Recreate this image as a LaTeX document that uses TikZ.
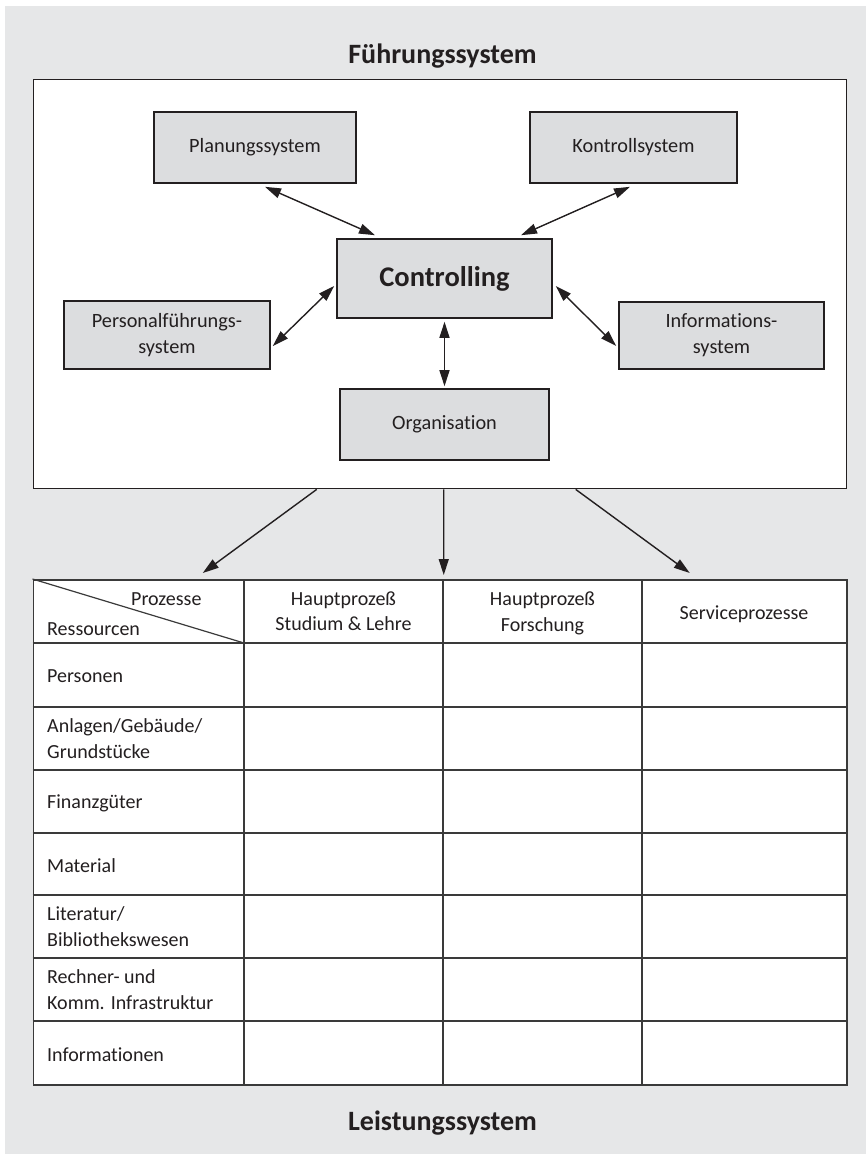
\documentclass[tikz,border=0pt]{standalone}
\usepackage{fontspec}
\setmainfont{Carlito}[Ligatures={NoCommon}]
\usetikzlibrary{arrows.meta,calc}
\definecolor{bggray}{HTML}{E6E7E8}
\definecolor{boxgray}{HTML}{DCDDDF}
\definecolor{ink}{HTML}{231F20}
\definecolor{rule}{HTML}{3A3A3A}

\begin{document}
\begin{tikzpicture}[x=1pt,y=-1pt,
  tip/.tip={Triangle[length=16pt,width=10pt]},
  sysbox/.style={draw=ink,line width=1.6pt,fill=boxgray,inner sep=0pt,
    align=center,text=ink,font=\fontsize{20.3}{26}\selectfont},
  mainbox/.style={sysbox,font=\fontsize{28.5}{32}\selectfont\bfseries},
  frame/.style={draw=ink,line width=1.4pt,fill=white,inner sep=0pt},
  heading/.style={text=ink,inner sep=0pt,font=\fontsize{28}{32}\selectfont\bfseries},
  link/.style={draw=ink,line width=1.4pt,tip-tip},
  flow/.style={draw=ink,line width=1.4pt,-tip},
  celltext/.style={text=ink,inner sep=0pt,align=left,font=\fontsize{20}{25.5}\selectfont},
  headtext/.style={celltext,align=center},
  grid/.style={draw=rule,line width=1.5pt}
]
% page and background
\useasboundingbox (0,0) rectangle (866,1154);
\fill[bggray] (5,6) rectangle (866,1154);

% management system
\node[heading,anchor=base] (ftitle) at (442.5,63) {Führungssystem};
\node[frame,minimum width=813.5,minimum height=409,anchor=north west] (fs) at (32.5,79) {};

\node[sysbox,minimum width=202,minimum height=71] (plan)  at (255,147.5)   {Planungssystem};
\node[sysbox,minimum width=207,minimum height=71] (kontr) at (633.5,147.5) {Kontrollsystem};
\node[mainbox,minimum width=215,minimum height=79] (ctrl)  at (444.5,278.5) {Controlling};
\node[sysbox,minimum width=206,minimum height=68] (pers)  at (167,335)     {Personalführungs-\\system};
\node[sysbox,minimum width=205,minimum height=67] (info)  at (721.5,335.5) {Informations-\\system};
\node[sysbox,minimum width=209,minimum height=71] (orga)  at (444.5,424.5) {Organisation};

\draw[link] ($(plan.south)+(10,3)$)    -- ($(ctrl.north)+(-69.5,-3)$);
\draw[link] ($(kontr.south)+(-3.5,3)$) -- ($(ctrl.north)+(76.5,-3)$);
\draw[link] ($(pers.east)+(2,11)$)     -- ($(ctrl.west)+(-2,7.5)$);
\draw[link] ($(info.west)+(-2,10.5)$)  -- ($(ctrl.east)+(3,7.5)$);
\draw[link] ($(ctrl.south)+(0,3)$)     -- ($(orga.north)+(0,-2)$);

% performance system table
\node[draw=rule,line width=1.5pt,fill=white,inner sep=0pt,minimum width=813.5,
      minimum height=505,anchor=north west] (tab) at (32.5,579) {};

\draw[flow] ($(fs.south)+(-123.25,0)$) -- ($(tab.north)+(-237.25,-6)$);
\draw[flow] ($(fs.south)+(3.75,0)$)    -- ($(tab.north)+(3.75,-4)$);
\draw[flow] ($(fs.south)+(135.75,0)$)  -- ($(tab.north)+(249.75,-6)$);

% column and row rules
\foreach \cx in {244,443,642} \draw[grid] (\cx,579) -- (\cx,1084);
\foreach \ry in {643,707,770,833,895,958,1021} \draw[grid] (32.5,\ry) -- (846,\ry);
\draw[grid,line width=1.2pt] (32.5,579) -- (244,643);

% header
\node[celltext,anchor=base west] (hproz) at (131,605) {Prozesse};
\node[celltext,anchor=base west] (hres)  at (47,635)  {Ressourcen};
\node[headtext] (hstud) at (343.5,611)  {Hauptprozeß\\Studium \& Lehre};
\node[headtext] (hfor)  at (542.5,613.5){Hauptprozeß\\Forschung};
\node[headtext,anchor=base] (hserv) at (744,619) {Serviceprozesse};

% resource rows
\node[celltext,anchor=base west] (r1) at (47,682)    {Personen};
\node[celltext,anchor=west]      (r2) at (47,738.5)  {Anlagen/Gebäude/\\Grundstücke};
\node[celltext,anchor=base west] (r3) at (47,808)    {Finanzgüter};
\node[celltext,anchor=base west] (r4) at (47,872)    {Material};
\node[celltext,anchor=west]      (r5) at (47,926.5)  {Literatur/\\Bibliothekswesen};
\node[celltext,anchor=west]      (r6) at (47,989.5)  {Rechner- und\\Komm. Infrastruktur};
\node[celltext,anchor=base west] (r7) at (47,1061)   {Informationen};

\node[heading,anchor=base] (ltitle) at (442.5,1130) {Leistungssystem};
\end{tikzpicture}
\end{document}
